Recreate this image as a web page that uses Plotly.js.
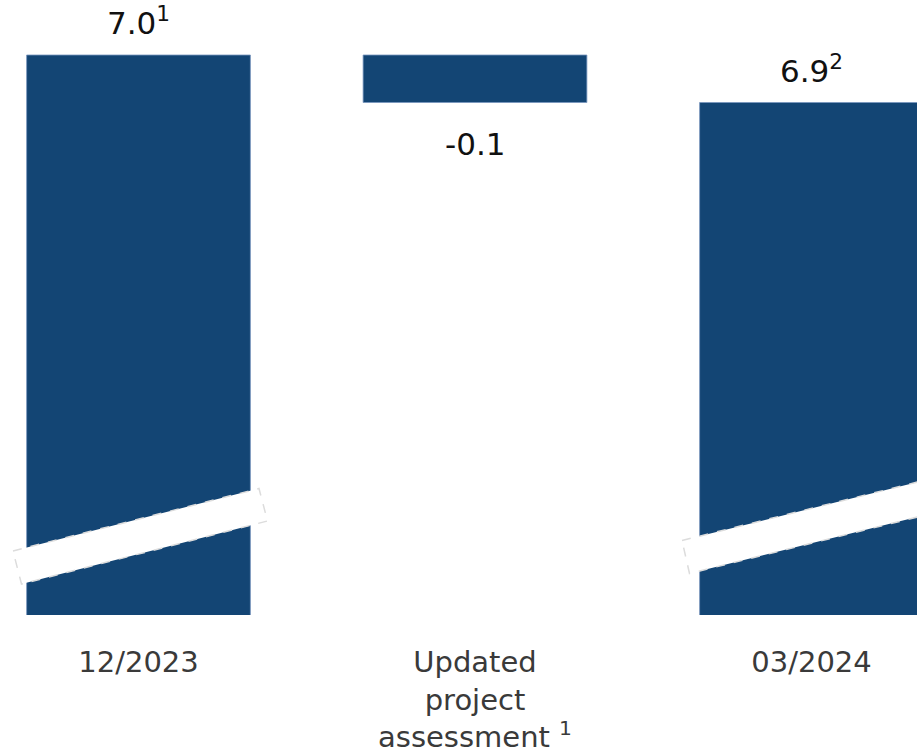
<!DOCTYPE html>
<html>
<head>
<meta charset="utf-8">
<script src="https://cdn.plot.ly/plotly-3.0.1.min.js"></script>
<style>
  html, body { margin: 0; padding: 0; background: #ffffff; }
  #chart { width: 917px; height: 754px; }
</style>
</head>
<body>
<div id="chart"></div>
<script>
// ---- data ----
const categories = ["12/2023", "Updated<br>project<br>assessment <sup>1</sup>", "03/2024"];
const values = [7.0, -0.1, 6.9];
const measures = ["absolute", "relative", "total"];
const valueLabels = ["7.0<sup>1</sup>", "-0.1", "6.9<sup>2</sup>"];

// ---- styling ----
const barColor = "#134574";
const W = 917, H = 754;
const plotBottomPx = 615;

// cumulative levels for label placement
const levels = [];
let run = 0;
values.forEach((v, i) => {
  if (measures[i] === "absolute") { run = v; levels.push({top: v, bottom: v}); }
  else if (measures[i] === "relative") { const prev = run; run = run + v; levels.push({top: Math.max(prev, run), bottom: Math.min(prev, run)}); }
  else { levels.push({top: run, bottom: run}); }
});

const trace = {
  type: "waterfall",
  x: categories,
  y: values,
  measure: measures,
  textposition: "none",
  hoverinfo: "skip",
  connector: { visible: false },
  increasing: { marker: { color: barColor, line: { color: "rgba(120,150,190,0.8)", width: 1 } } },
  decreasing: { marker: { color: barColor, line: { color: "rgba(120,150,190,0.8)", width: 1 } } },
  totals:     { marker: { color: barColor, line: { color: "rgba(120,150,190,0.8)", width: 1 } } }
};

const annotations = categories.map((c, i) => {
  const neg = measures[i] === "relative" && values[i] < 0;
  return {
    x: c, xref: "x",
    y: neg ? levels[i].bottom : levels[i].top, yref: "y",
    text: valueLabels[i],
    showarrow: false,
    xanchor: "center",
    yanchor: neg ? "top" : "bottom",
    yshift: neg ? -21 : 12,
    font: { family: "DejaVu Sans", size: 31, color: "#111111" }
  };
});

// break bands (decoration), pixel coords -> paper coords
const px = (x) => x / W;
const py = (y) => 1 - y / plotBottomPx;
function band(pts) {
  return "M" + pts.map(p => px(p[0]).toFixed(5) + "," + py(p[1]).toFixed(5)).join(" L") + " Z";
}
const bandStyle = { type: "path", xref: "paper", yref: "paper", fillcolor: "#ffffff",
  line: { color: "#dcdcdc", width: 1.5, dash: "dash" }, layer: "above" };
const shapes = [
  Object.assign({}, bandStyle, { path: band([[13, 551], [259, 488.5], [267.5, 521], [21.5, 584]]) }),
  Object.assign({}, bandStyle, { path: band([[682, 540.5], [980, 466.5], [988, 499.5], [689.5, 573.5]]) })
];

const layout = {
  width: W, height: H,
  margin: { l: 0, r: 0, t: 0, b: H - plotBottomPx, pad: 0 },
  paper_bgcolor: "#ffffff",
  plot_bgcolor: "#ffffff",
  showlegend: false,
  waterfallgap: 0.335,
  xaxis: {
    type: "category",
    range: [-0.4116, 2.3135],
    showgrid: false, zeroline: false, showline: false, ticks: "",
    tickfont: { family: "DejaVu Sans", size: 29, color: "#3a3a3a" },
    ticklabelstandoff: 27
  },
  yaxis: {
    range: [5.821, 7.1158],
    visible: false, showgrid: false, zeroline: false
  },
  annotations: annotations,
  shapes: shapes
};

Plotly.newPlot("chart", [trace], layout, { displayModeBar: false, staticPlot: true });
</script>
</body>
</html>
